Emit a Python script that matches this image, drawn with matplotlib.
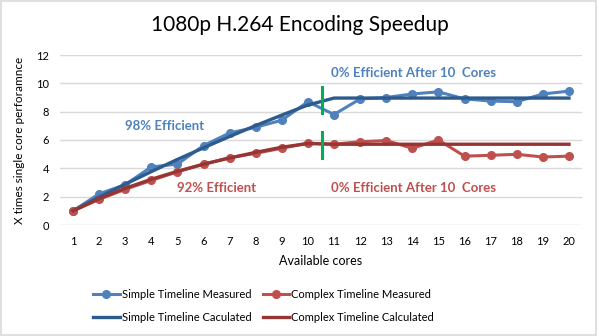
import matplotlib
matplotlib.use('Agg')
import matplotlib.pyplot as plt
from matplotlib.patches import Rectangle

plt.rcParams['font.family'] = ['Lato', 'DejaVu Sans']

cores = list(range(1, 21))
simple_measured = [1.0, 2.2, 2.85, 4.1, 4.3, 5.6, 6.5, 6.9, 7.4, 8.7,
                   7.8, 8.9, 9.0, 9.25, 9.4, 8.9, 8.75, 8.7, 9.25, 9.45]
complex_measured = [1.0, 1.82, 2.52, 3.15, 3.76, 4.3, 4.75, 5.06, 5.42, 5.78,
                    5.7, 5.88, 5.96, 5.42, 6.0, 4.86, 4.92, 4.99, 4.8, 4.86]
simple_calc = [1.0, 1.96, 2.88, 3.77, 4.63, 5.45, 6.25, 7.02, 7.76, 8.47,
               8.96, 8.96, 8.96, 8.96, 8.96, 8.96, 8.96, 8.96, 8.96, 8.96]
complex_calc = [1.0, 1.85, 2.59, 3.23, 3.79, 4.29, 4.73, 5.13, 5.49, 5.75,
                5.7, 5.7, 5.7, 5.7, 5.7, 5.7, 5.7, 5.7, 5.7, 5.7]

c_sm = '#4F81BD'
c_sc = '#2E5B8E'
c_cm = '#C0504D'
c_cc = '#963634'

fig = plt.figure(figsize=(5.99, 3.36), dpi=100)
fig.patches.append(Rectangle((0.002, 0.003), 0.993, 0.993, transform=fig.transFigure,
                             fill=False, edgecolor='#D9D9D9', linewidth=1.2))
ax = fig.add_axes([60 / 599, 1 - 225 / 336, (582 - 60) / 599, (225 - 55) / 336])

l_sm, = ax.plot(cores, simple_measured, color=c_sm, lw=2.2, marker='o', ms=5.5, label='Simple Timeline Measured')
l_cm, = ax.plot(cores, complex_measured, color=c_cm, lw=2.2, marker='o', ms=5.5, label='Complex Timeline Measured')
l_sc, = ax.plot(cores, simple_calc, color=c_sc, lw=2.4, label='Simple Timeline Caculated')
l_cc, = ax.plot(cores, complex_calc, color=c_cc, lw=2.4, label='Complex Timeline Calculated')

ax.plot([10.55, 10.55], [7.9, 9.75], color='#00B050', lw=2.2)
ax.plot([10.55, 10.55], [4.72, 6.6], color='#00B050', lw=2.2)

ax.text(3.0, 7.0, '98% Efficient', color=c_sm, fontsize=9.5, fontweight='bold', va='center')
ax.text(5.0, 2.6, '92% Efficient', color=c_cm, fontsize=9.5, fontweight='bold', va='center')
ax.text(10.9, 10.7, '0% Efficient After 10  Cores', color=c_sm, fontsize=9.5, fontweight='bold', va='center')
ax.text(10.9, 2.6, '0% Efficient After 10  Cores', color=c_cm, fontsize=9.5, fontweight='bold', va='center')

ax.set_xlim(0.5, 20.5)
ax.set_ylim(0, 12)
ax.set_xticks(cores)
ax.set_yticks(range(0, 13, 2))
ax.grid(axis='y', color='#D9D9D9', lw=1)
ax.set_axisbelow(True)
for s in ax.spines.values():
    s.set_visible(False)
ax.tick_params(length=0, labelsize=8, pad=8)
ax.set_xlabel('Available cores', fontsize=9, labelpad=6)
ax.set_ylabel('X times single core perforamnce', fontsize=8.5, labelpad=8)

fig.suptitle('1080p H.264 Encoding Speedup', fontsize=15, y=0.955)
fig.legend([l_sm, l_sc, l_cm, l_cc],
           [l.get_label() for l in (l_sm, l_sc, l_cm, l_cc)],
           loc='lower center', bbox_to_anchor=(0.44, 0.01), ncol=2, frameon=False,
           fontsize=8, handlelength=2.4, columnspacing=1.0, handletextpad=0.2,
           labelspacing=1.05)

fig.savefig('out.png', dpi=100)
